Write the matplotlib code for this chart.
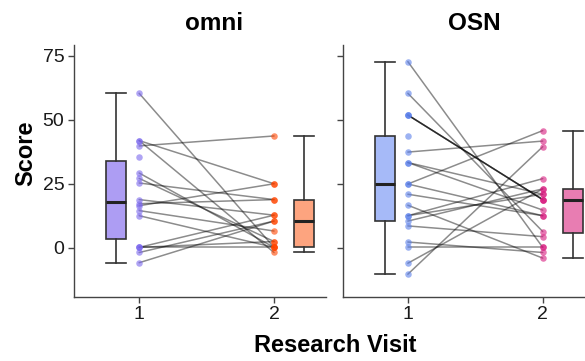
import numpy as np
import matplotlib
matplotlib.use("Agg")
import matplotlib.pyplot as plt

plt.rcParams['font.family'] = ['Liberation Sans', 'DejaVu Sans']

# ---- data ----
panels = ["omni", "OSN"]
visits = [1, 2]
tick_labels_y = [0, 25, 50, 75]

omni_v1 = [60.4, 41.9, 41.9, 39.8, 35.6, 29.2, 27.1, 25.3, 18.8, 17.2,
           16.4, 14.5, 12.5, 0.1, 0.1, 0.1, -1.9, -5.9]
omni_v2 = [0.1, 25.0, -1.9, 43.7, np.nan, 0.1, 2.4, 18.8, 12.7, 18.8,
           25.0, 6.5, 0.1, 12.7, 2.4, 0.1, 10.4, 10.4]

osn_v1 = [72.8, 60.4, 51.9, 51.9, 51.9, 43.7, 37.4, 33.3, 33.3, 24.9, 24.9,
          20.9, 16.6, 12.5, 12.5, 10.4, 8.5, 2.2, 0.1, -6.1, -10.4]
osn_v2 = [0.1, 6.3, 18.8, 18.8, 18.8, np.nan, 41.7, 14.7, 20.9, 45.8, 12.5,
          12.5, -4.1, 20.9, 27.0, 23.0, 4.3, -1.9, 0.1, 23.0, 39.5]

data = {"omni": (omni_v1, omni_v2), "OSN": (osn_v1, osn_v2)}
point_colors = {"omni": ("#7B68EE", "#FF4500"), "OSN": ("#5A7FEA", "#D81B7F")}
box_colors = {"omni": ("#AD9DF3", "#FDA47F"), "OSN": ("#A6BAF8", "#E87DB2")}

W, H = 585, 361
fig = plt.figure(figsize=(W / 100, H / 100), dpi=100)

ax_left_px = [74, 342.7]
ax_w_px = 251.7
ax_top_px, ax_bot_px = 45, 296.7
box_pos = [0.83, 2.225]
box_w = 0.148

for i, name in enumerate(panels):
    ax = fig.add_axes([ax_left_px[i] / W, (H - ax_bot_px) / H,
                       ax_w_px / W, (ax_bot_px - ax_top_px) / H])
    v1 = np.array(data[name][0], dtype=float)
    v2 = np.array(data[name][1], dtype=float)
    # paired lines
    for a, b in zip(v1, v2):
        if np.isfinite(a) and np.isfinite(b):
            ax.plot([visits[0], visits[1]], [a, b], color="black", alpha=0.45,
                    lw=1.1, zorder=2, solid_capstyle="round")
    # points
    for j, vals in enumerate([v1, v2]):
        vv = vals[np.isfinite(vals)]
        ax.scatter(np.full(len(vv), visits[j]), vv, s=22,
                   color=point_colors[name][j], alpha=0.6, lw=0, zorder=3)
    # boxplots
    for j, vals in enumerate([v1, v2]):
        vv = vals[np.isfinite(vals)]
        bp = ax.boxplot([vv], positions=[box_pos[j]], widths=box_w,
                        patch_artist=True, showfliers=False, whis=1.5,
                        capwidths=box_w, manage_ticks=False)
        for p in bp['boxes']:
            p.set_facecolor(box_colors[name][j])
            p.set_edgecolor("#333333")
            p.set_linewidth(1.2)
        for k in ('whiskers', 'caps'):
            for ln in bp[k]:
                ln.set_color("#333333")
                ln.set_linewidth(1.2)
        for ln in bp['medians']:
            ln.set_color("#222222")
            ln.set_linewidth(2.2)

    ax.set_xlim(0.517, 2.383)
    ax.set_ylim(-19.2, 79.3)
    ax.set_xticks(visits)
    ax.set_xticklabels([str(v) for v in visits])
    ax.set_yticks(tick_labels_y)
    if i == 0:
        ax.set_yticklabels([str(t) for t in tick_labels_y])
    else:
        ax.set_yticklabels([])
    for s in ('top', 'right'):
        ax.spines[s].set_visible(False)
    for s in ('left', 'bottom'):
        ax.spines[s].set_color("#444444")
        ax.spines[s].set_linewidth(1.0)
    ax.tick_params(axis='both', length=4, width=1.0, color="#444444",
                   labelsize=14, labelcolor="#1a1a1a", pad=3)
    ax.patch.set_alpha(0)

fig.text(214 / W, 1 - 23 / H, "omni", ha="center", va="center",
         fontsize=17.5, fontweight="bold")
fig.text(474 / W, 1 - 23 / H, "OSN", ha="center", va="center",
         fontsize=17.5, fontweight="bold")
fig.text(25.5 / W, 1 - 153 / H, "Score", ha="center", va="center",
         rotation=90, fontsize=17, fontweight="bold")
fig.text(335 / W, 1 - 345 / H, "Research Visit", ha="center", va="center",
         fontsize=17, fontweight="bold")

fig.savefig("out.png", dpi=100)
